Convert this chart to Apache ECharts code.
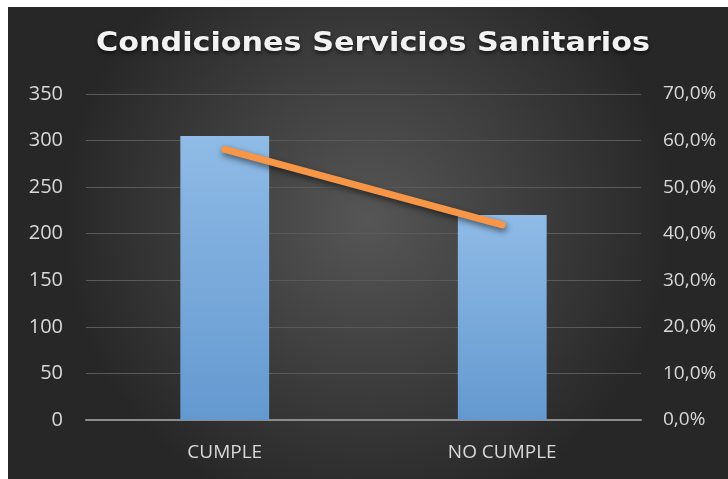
<!DOCTYPE html>
<html><head><meta charset="utf-8">
<script src="https://cdn.jsdelivr.net/npm/echarts@6/dist/echarts.min.js"></script>
<style>html,body{margin:0;padding:0;background:#fff}#c{width:728px;height:479px}</style>
</head><body><div id="c"></div>
<script>
const titleText = 'Condiciones Servicios Sanitarios';
const categories = ['CUMPLE', 'NO CUMPLE'];
const counts = [305, 220];
const percents = [0.581, 0.419];

const chart = echarts.init(document.getElementById('c'), null, {renderer: 'canvas'});
const labelFont = {color: '#d9d9d9', fontSize: 20, fontFamily: 'Open Sans'};
chart.setOption({
  backgroundColor: '#ffffff',
  graphic: [{
    type: 'rect', left: 8, top: 7, z: -10, silent: true,
    shape: {width: 720, height: 472},
    style: {fill: new echarts.graphic.RadialGradient(0.5, 0.45, 0.65, [
      {offset: 0, color: '#565656'}, {offset: 1, color: '#272727'}])}
  }, {
    type: 'text', x: 373, y: 44, scaleX: 1.12, z: 10, silent: true,
    style: {text: titleText, align: 'center', verticalAlign: 'middle',
      fill: '#f2f2f2', fontSize: 27, fontWeight: 'bold', fontFamily: 'DejaVu Sans',
      textShadowColor: 'rgba(0,0,0,0.7)', textShadowBlur: 4, textShadowOffsetY: 2}
  }],
  grid: {left: 86, right: 87, top: 94, bottom: 59},
  xAxis: {
    type: 'category', data: categories,
    axisLine: {lineStyle: {color: '#8c8c8c', width: 2}},
    axisTick: {show: false},
    axisLabel: Object.assign({margin: 23}, labelFont, {fontSize: 19})
  },
  yAxis: [{
    type: 'value', min: 0, max: 350, interval: 50,
    axisLine: {show: false}, axisTick: {show: false},
    axisLabel: Object.assign({margin: 23}, labelFont),
    splitLine: {lineStyle: {color: '#5a5a5a', width: 1}}
  }, {
    type: 'value', min: 0, max: 0.7, interval: 0.1,
    axisLine: {show: false}, axisTick: {show: false},
    axisLabel: Object.assign({margin: 22, formatter: v => (v * 100).toFixed(1).replace('.', ',') + '%'}, labelFont, {fontSize: 19}),
    splitLine: {show: false}
  }],
  series: [{
    type: 'bar', data: counts, barWidth: '32%', z: 2,
    itemStyle: {color: new echarts.graphic.LinearGradient(0, 0, 0, 1, [
      {offset: 0, color: '#8fbbe6'}, {offset: 1, color: '#6499d0'}])}
  }, {
    type: 'line', data: percents, yAxisIndex: 1, z: 3,
    symbol: 'none', silent: true,
    lineStyle: {color: '#f79646', width: 7, cap: 'round',
      shadowColor: 'rgba(0,0,0,0.55)', shadowBlur: 6, shadowOffsetY: 3, shadowOffsetX: 1}
  }],
  animation: false
});
</script></body></html>
